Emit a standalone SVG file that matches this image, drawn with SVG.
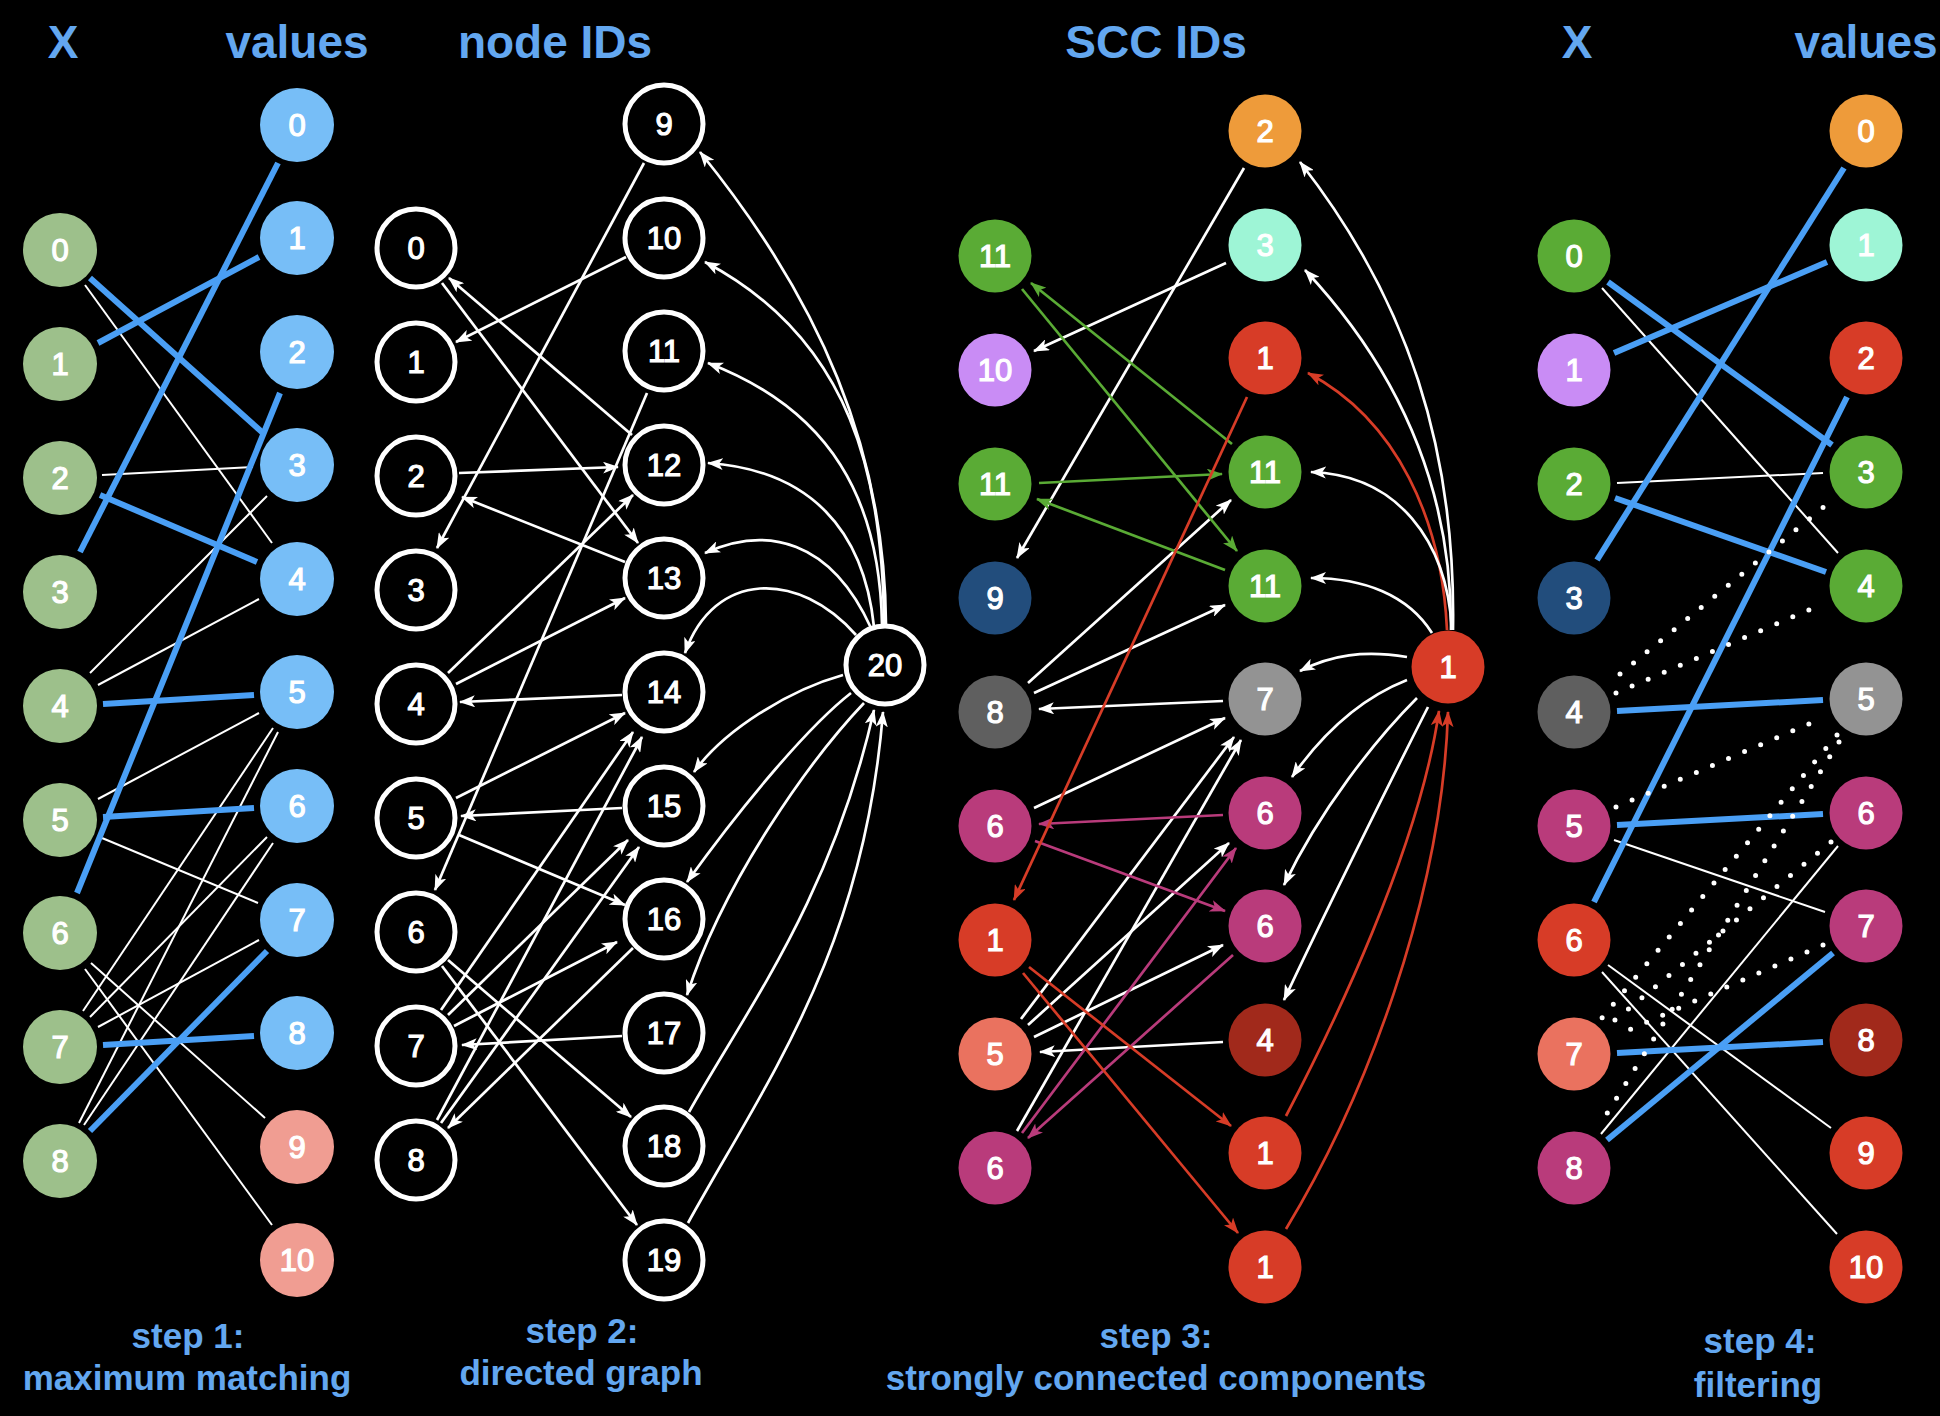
<svg xmlns="http://www.w3.org/2000/svg" width="1940" height="1416" viewBox="0 0 1940 1416">
<defs>
<style>
.h{font-family:"Liberation Sans",Arial,sans-serif;font-weight:bold;fill:#63a7f0;text-anchor:middle}
.hd{font-size:46px}
.st{font-size:35px}
.n text{font-family:"Liberation Sans",Arial,sans-serif;font-size:31px;fill:#fff;stroke:#fff;stroke-width:1.2;text-anchor:middle}
.o circle{fill:#000;stroke:#fff;stroke-width:5}
.m{stroke:#4a9ff5;stroke-width:6;fill:none}
.w{stroke:#fff;stroke-width:2;fill:none}
.a{stroke:#fff;stroke-width:2.7;fill:none;marker-end:url(#aw)}
.ag{stroke:#5aab35;stroke-width:2.7;fill:none;marker-end:url(#ag)}
.am{stroke:#b93b7b;stroke-width:2.7;fill:none;marker-end:url(#am)}
.ar{stroke:#d73c27;stroke-width:2.7;fill:none;marker-end:url(#ar)}
.d{stroke:#fff;stroke-width:5;stroke-linecap:round;stroke-dasharray:0 17.5;fill:none}
.gx{fill:#9dc08b}.bv{fill:#77bef7}.sv{fill:#f09d92}
.or{fill:#ee9b3a}.mi{fill:#9ef5d6}.rd{fill:#d73c27}.gr{fill:#5aab35}.pu{fill:#c98cf5}
.db{fill:#224d7c}.dg{fill:#5f5f5f}.gy{fill:#939393}.mg{fill:#b93b7b}.sa{fill:#ea725f}.dr{fill:#a1291b}
</style>
<marker id="aw" viewBox="0 0 16 12" markerWidth="16" markerHeight="12" refX="15" refY="6" orient="auto" markerUnits="userSpaceOnUse"><path d="M0,0 L16,6 L0,12 L4,6 z" fill="#fff"/></marker>
<marker id="ag" viewBox="0 0 16 12" markerWidth="16" markerHeight="12" refX="15" refY="6" orient="auto" markerUnits="userSpaceOnUse"><path d="M0,0 L16,6 L0,12 L4,6 z" fill="#5aab35"/></marker>
<marker id="am" viewBox="0 0 16 12" markerWidth="16" markerHeight="12" refX="15" refY="6" orient="auto" markerUnits="userSpaceOnUse"><path d="M0,0 L16,6 L0,12 L4,6 z" fill="#b93b7b"/></marker>
<marker id="ar" viewBox="0 0 16 12" markerWidth="16" markerHeight="12" refX="15" refY="6" orient="auto" markerUnits="userSpaceOnUse"><path d="M0,0 L16,6 L0,12 L4,6 z" fill="#d73c27"/></marker>
</defs>
<rect width="1940" height="1416" fill="#000"/>

<g id="titles">
<text class="h hd" x="63" y="58">X</text>
<text class="h hd" x="297" y="58">values</text>
<text class="h hd" x="555" y="58">node IDs</text>
<text class="h hd" x="1156" y="58">SCC IDs</text>
<text class="h hd" x="1577" y="58">X</text>
<text class="h hd" x="1866" y="58">values</text>
<text class="h st" x="188" y="1348">step 1:</text>
<text class="h st" x="187" y="1390">maximum matching</text>
<text class="h st" x="582" y="1343">step 2:</text>
<text class="h st" x="581" y="1385">directed graph</text>
<text class="h st" x="1156" y="1348">step 3:</text>
<text class="h st" x="1156" y="1390">strongly connected components</text>
<text class="h st" x="1760" y="1353">step 4:</text>
<text class="h st" x="1758" y="1397">filtering</text>
</g>

<g id="connectors">
<g id="step1-edges">
<path class="w" d="M85,285 L272,543"/>
<path class="w" d="M102,475 L253,467"/>
<path class="w" d="M90,673 L267,496"/>
<path class="w" d="M98,685 L259,599"/>
<path class="w" d="M98,799 L259,713"/>
<path class="w" d="M102,838 L258,903"/>
<path class="w" d="M91,963 L265,1118"/>
<path class="w" d="M85,969 L272,1225"/>
<path class="w" d="M83,1011 L273,728"/>
<path class="w" d="M90,1017 L267,837"/>
<path class="w" d="M98,1027 L259,940"/>
<path class="w" d="M79,1123 L278,732"/>
<path class="w" d="M84,1125 L273,843"/>
<path class="m" d="M90,278 L263,433"/>
<path class="m" d="M98,343 L259,257"/>
<path class="m" d="M100,495 L257,562"/>
<path class="m" d="M80,552 L278,163"/>
<path class="m" d="M103,704 L254,695"/>
<path class="m" d="M103,817 L254,808"/>
<path class="m" d="M77,893 L280,393"/>
<path class="m" d="M103,1045 L254,1036"/>
<path class="m" d="M90,1131 L267,951"/>
</g>
<g id="step2-edges">
<path class="a" d="M644,163 L437,548"/>
<path class="a" d="M626,257 L456,342"/>
<path class="a" d="M442,283 L638,543"/>
<path class="a" d="M632,435 L449,278"/>
<path class="a" d="M647,393 L435,890"/>
<path class="a" d="M459,473 L618,467"/>
<path class="a" d="M625,562 L462,497"/>
<path class="a" d="M448,673 L633,495"/>
<path class="a" d="M456,684 L625,598"/>
<path class="a" d="M622,695 L460,702"/>
<path class="a" d="M456,798 L625,713"/>
<path class="a" d="M622,808 L461,816"/>
<path class="a" d="M459,835 L625,905"/>
<path class="a" d="M441,1010 L633,732"/>
<path class="a" d="M437,1120 L642,737"/>
<path class="a" d="M448,1015 L628,840"/>
<path class="a" d="M441,1123 L639,847"/>
<path class="a" d="M454,1026 L617,942"/>
<path class="a" d="M633,948 L448,1128"/>
<path class="a" d="M622,1036 L462,1045"/>
<path class="a" d="M448,960 L631,1117"/>
<path class="a" d="M442,966 L637,1225"/>
<path class="a" d="M886,625 C885,450 820,300 700,152"/>
<path class="a" d="M884,625 C883,480 853,340 705,262"/>
<path class="a" d="M882,625 C880,500 831,410 708,363"/>
<path class="a" d="M874,627 C864,530 810,470 708,463"/>
<path class="a" d="M871,628 C831,540 767,525 705,553"/>
<path class="a" d="M856,635 C799,570 714,570 685,653"/>
<path class="a" d="M843,675 C789,690 724,730 694,772"/>
<path class="a" d="M851,693 C810,725 746,800 687,882"/>
<path class="a" d="M864,703 C810,760 724,880 687,995"/>
<path class="a" d="M689,1112 C746,1010 831,900 874,710"/>
<path class="a" d="M688,1223 C767,1080 864,950 883,712"/>
</g>
<g id="step3-edges">
<path class="a" d="M1244,168 L1017,558"/>
<path class="a" d="M1226,263 L1034,351"/>
<path class="a" d="M1028,683 L1231,500"/>
<path class="a" d="M1034,693 L1225,605"/>
<path class="a" d="M1223,701 L1039,709"/>
<path class="a" d="M1034,808 L1225,718"/>
<path class="a" d="M1021,1019 L1234,737"/>
<path class="a" d="M1017,1131 L1241,740"/>
<path class="a" d="M1028,1025 L1229,843"/>
<path class="a" d="M1034,1037 L1223,945"/>
<path class="a" d="M1223,1042 L1040,1052"/>
<path class="ag" d="M1022,289 L1237,551"/>
<path class="ag" d="M1232,444 L1031,283"/>
<path class="ag" d="M1039,483 L1222,474"/>
<path class="ag" d="M1225,570 L1037,499"/>
<path class="am" d="M1223,815 L1039,824"/>
<path class="am" d="M1035,841 L1225,911"/>
<path class="am" d="M1022,1133 L1236,848"/>
<path class="am" d="M1233,955 L1028,1138"/>
<path class="ar" d="M1247,397 L1014,900"/>
<path class="ar" d="M1029,967 L1231,1126"/>
<path class="ar" d="M1023,973 L1238,1233"/>
<path class="a" d="M1453,630 C1456,450 1408,300 1300,162"/>
<path class="a" d="M1451,630 C1452,500 1408,380 1305,270"/>
<path class="ar" d="M1447,630 C1442,520 1397,420 1308,373"/>
<path class="a" d="M1452,630 C1447,540 1397,475 1311,472"/>
<path class="a" d="M1432,633 C1408,595 1364,578 1311,578"/>
<path class="a" d="M1407,657 C1364,650 1331,655 1300,671"/>
<path class="a" d="M1407,680 C1364,697 1325,730 1292,777"/>
<path class="a" d="M1417,698 C1375,740 1320,810 1284,885"/>
<path class="a" d="M1428,707 C1386,790 1331,900 1284,1000"/>
<path class="ar" d="M1286,1116 C1331,1030 1419,850 1439,711"/>
<path class="ar" d="M1286,1229 C1364,1100 1442,900 1448,712"/>
</g>
<g id="step4-edges">
<path class="w" d="M1602,288 L1838,553"/>
<path class="w" d="M1617,483 L1823,473"/>
<path class="w" d="M1614,840 L1825,912"/>
<path class="w" d="M1601,1134 L1838,846"/>
<path class="w" d="M1608,965 L1831,1128"/>
<path class="w" d="M1602,972 L1837,1234"/>
<path class="m" d="M1608,282 L1832,445"/>
<path class="m" d="M1614,353 L1827,262"/>
<path class="m" d="M1597,560 L1844,168"/>
<path class="m" d="M1615,498 L1826,572"/>
<path class="m" d="M1594,902 L1847,397"/>
<path class="m" d="M1617,711 L1823,700"/>
<path class="m" d="M1617,825 L1823,814"/>
<path class="m" d="M1617,1053 L1823,1042"/>
<path class="m" d="M1607,1140 L1833,953"/>
<path class="d" d="M1620,674 L1825,506"/>
<path class="d" d="M1616,693 L1811,609"/>
<path class="d" d="M1616,807 L1811,723"/>
<path class="d" d="M1837,735 L1601,1019"/>
<path class="d" d="M1839,742 L1603,1120"/>
<path class="d" d="M1831,842 L1609,1025"/>
<path class="d" d="M1823,945 L1615,1036"/>
</g>
</g>

<g id="step1-nodes">
<g id="s1x0" class="n"><circle class="gx" cx="60" cy="250" r="37"/><text x="60" y="261">0</text></g>
<g id="s1x1" class="n"><circle class="gx" cx="60" cy="364" r="37"/><text x="60" y="375">1</text></g>
<g id="s1x2" class="n"><circle class="gx" cx="60" cy="478" r="37"/><text x="60" y="489">2</text></g>
<g id="s1x3" class="n"><circle class="gx" cx="60" cy="592" r="37"/><text x="60" y="603">3</text></g>
<g id="s1x4" class="n"><circle class="gx" cx="60" cy="706" r="37"/><text x="60" y="717">4</text></g>
<g id="s1x5" class="n"><circle class="gx" cx="60" cy="820" r="37"/><text x="60" y="831">5</text></g>
<g id="s1x6" class="n"><circle class="gx" cx="60" cy="933" r="37"/><text x="60" y="944">6</text></g>
<g id="s1x7" class="n"><circle class="gx" cx="60" cy="1047" r="37"/><text x="60" y="1058">7</text></g>
<g id="s1x8" class="n"><circle class="gx" cx="60" cy="1161" r="37"/><text x="60" y="1172">8</text></g>
<g id="s1v0" class="n"><circle class="bv" cx="297" cy="125" r="37"/><text x="297" y="136">0</text></g>
<g id="s1v1" class="n"><circle class="bv" cx="297" cy="238" r="37"/><text x="297" y="249">1</text></g>
<g id="s1v2" class="n"><circle class="bv" cx="297" cy="352" r="37"/><text x="297" y="363">2</text></g>
<g id="s1v3" class="n"><circle class="bv" cx="297" cy="465" r="37"/><text x="297" y="476">3</text></g>
<g id="s1v4" class="n"><circle class="bv" cx="297" cy="579" r="37"/><text x="297" y="590">4</text></g>
<g id="s1v5" class="n"><circle class="bv" cx="297" cy="692" r="37"/><text x="297" y="703">5</text></g>
<g id="s1v6" class="n"><circle class="bv" cx="297" cy="806" r="37"/><text x="297" y="817">6</text></g>
<g id="s1v7" class="n"><circle class="bv" cx="297" cy="920" r="37"/><text x="297" y="931">7</text></g>
<g id="s1v8" class="n"><circle class="bv" cx="297" cy="1033" r="37"/><text x="297" y="1044">8</text></g>
<g id="s1v9" class="n"><circle class="sv" cx="297" cy="1147" r="37"/><text x="297" y="1158">9</text></g>
<g id="s1v10" class="n"><circle class="sv" cx="297" cy="1260" r="37"/><text x="297" y="1271">10</text></g>
</g>

<g id="step2-nodes">
<g id="s2n0" class="n o"><circle cx="416" cy="248" r="39"/><text x="416" y="259">0</text></g>
<g id="s2n1" class="n o"><circle cx="416" cy="362" r="39"/><text x="416" y="373">1</text></g>
<g id="s2n2" class="n o"><circle cx="416" cy="476" r="39"/><text x="416" y="487">2</text></g>
<g id="s2n3" class="n o"><circle cx="416" cy="590" r="39"/><text x="416" y="601">3</text></g>
<g id="s2n4" class="n o"><circle cx="416" cy="704" r="39"/><text x="416" y="715">4</text></g>
<g id="s2n5" class="n o"><circle cx="416" cy="818" r="39"/><text x="416" y="829">5</text></g>
<g id="s2n6" class="n o"><circle cx="416" cy="932" r="39"/><text x="416" y="943">6</text></g>
<g id="s2n7" class="n o"><circle cx="416" cy="1046" r="39"/><text x="416" y="1057">7</text></g>
<g id="s2n8" class="n o"><circle cx="416" cy="1160" r="39"/><text x="416" y="1171">8</text></g>
<g id="s2n9" class="n o"><circle cx="664" cy="124" r="39"/><text x="664" y="135">9</text></g>
<g id="s2n10" class="n o"><circle cx="664" cy="238" r="39"/><text x="664" y="249">10</text></g>
<g id="s2n11" class="n o"><circle cx="664" cy="351" r="39"/><text x="664" y="362">11</text></g>
<g id="s2n12" class="n o"><circle cx="664" cy="465" r="39"/><text x="664" y="476">12</text></g>
<g id="s2n13" class="n o"><circle cx="664" cy="578" r="39"/><text x="664" y="589">13</text></g>
<g id="s2n14" class="n o"><circle cx="664" cy="692" r="39"/><text x="664" y="703">14</text></g>
<g id="s2n15" class="n o"><circle cx="664" cy="806" r="39"/><text x="664" y="817">15</text></g>
<g id="s2n16" class="n o"><circle cx="664" cy="919" r="39"/><text x="664" y="930">16</text></g>
<g id="s2n17" class="n o"><circle cx="664" cy="1033" r="39"/><text x="664" y="1044">17</text></g>
<g id="s2n18" class="n o"><circle cx="664" cy="1146" r="39"/><text x="664" y="1157">18</text></g>
<g id="s2n19" class="n o"><circle cx="664" cy="1260" r="39"/><text x="664" y="1271">19</text></g>
<g id="s2n20" class="n o"><circle cx="885" cy="665" r="39"/><text x="885" y="676">20</text></g>
</g>

<g id="step3-nodes">
<g id="s3x0" class="n"><circle class="gr" cx="995" cy="256" r="36.5"/><text x="995" y="267">11</text></g>
<g id="s3x1" class="n"><circle class="pu" cx="995" cy="370" r="36.5"/><text x="995" y="381">10</text></g>
<g id="s3x2" class="n"><circle class="gr" cx="995" cy="484" r="36.5"/><text x="995" y="495">11</text></g>
<g id="s3x3" class="n"><circle class="db" cx="995" cy="598" r="36.5"/><text x="995" y="609">9</text></g>
<g id="s3x4" class="n"><circle class="dg" cx="995" cy="712" r="36.5"/><text x="995" y="723">8</text></g>
<g id="s3x5" class="n"><circle class="mg" cx="995" cy="826" r="36.5"/><text x="995" y="837">6</text></g>
<g id="s3x6" class="n"><circle class="rd" cx="995" cy="940" r="36.5"/><text x="995" y="951">1</text></g>
<g id="s3x7" class="n"><circle class="sa" cx="995" cy="1054" r="36.5"/><text x="995" y="1065">5</text></g>
<g id="s3x8" class="n"><circle class="mg" cx="995" cy="1168" r="36.5"/><text x="995" y="1179">6</text></g>
<g id="s3v0" class="n"><circle class="or" cx="1265" cy="131" r="36.5"/><text x="1265" y="142">2</text></g>
<g id="s3v1" class="n"><circle class="mi" cx="1265" cy="245" r="36.5"/><text x="1265" y="256">3</text></g>
<g id="s3v2" class="n"><circle class="rd" cx="1265" cy="358" r="36.5"/><text x="1265" y="369">1</text></g>
<g id="s3v3" class="n"><circle class="gr" cx="1265" cy="472" r="36.5"/><text x="1265" y="483">11</text></g>
<g id="s3v4" class="n"><circle class="gr" cx="1265" cy="586" r="36.5"/><text x="1265" y="597">11</text></g>
<g id="s3v5" class="n"><circle class="gy" cx="1265" cy="699" r="36.5"/><text x="1265" y="710">7</text></g>
<g id="s3v6" class="n"><circle class="mg" cx="1265" cy="813" r="36.5"/><text x="1265" y="824">6</text></g>
<g id="s3v7" class="n"><circle class="mg" cx="1265" cy="926" r="36.5"/><text x="1265" y="937">6</text></g>
<g id="s3v8" class="n"><circle class="dr" cx="1265" cy="1040" r="36.5"/><text x="1265" y="1051">4</text></g>
<g id="s3v9" class="n"><circle class="rd" cx="1265" cy="1153" r="36.5"/><text x="1265" y="1164">1</text></g>
<g id="s3v10" class="n"><circle class="rd" cx="1265" cy="1267" r="36.5"/><text x="1265" y="1278">1</text></g>
<g id="s3sink" class="n"><circle class="rd" cx="1448" cy="667" r="36.5"/><text x="1448" y="678">1</text></g>
</g>

<g id="step4-nodes">
<g id="s4x0" class="n"><circle class="gr" cx="1574" cy="256" r="36.5"/><text x="1574" y="267">0</text></g>
<g id="s4x1" class="n"><circle class="pu" cx="1574" cy="370" r="36.5"/><text x="1574" y="381">1</text></g>
<g id="s4x2" class="n"><circle class="gr" cx="1574" cy="484" r="36.5"/><text x="1574" y="495">2</text></g>
<g id="s4x3" class="n"><circle class="db" cx="1574" cy="598" r="36.5"/><text x="1574" y="609">3</text></g>
<g id="s4x4" class="n"><circle class="dg" cx="1574" cy="712" r="36.5"/><text x="1574" y="723">4</text></g>
<g id="s4x5" class="n"><circle class="mg" cx="1574" cy="826" r="36.5"/><text x="1574" y="837">5</text></g>
<g id="s4x6" class="n"><circle class="rd" cx="1574" cy="940" r="36.5"/><text x="1574" y="951">6</text></g>
<g id="s4x7" class="n"><circle class="sa" cx="1574" cy="1054" r="36.5"/><text x="1574" y="1065">7</text></g>
<g id="s4x8" class="n"><circle class="mg" cx="1574" cy="1168" r="36.5"/><text x="1574" y="1179">8</text></g>
<g id="s4v0" class="n"><circle class="or" cx="1866" cy="131" r="36.5"/><text x="1866" y="142">0</text></g>
<g id="s4v1" class="n"><circle class="mi" cx="1866" cy="245" r="36.5"/><text x="1866" y="256">1</text></g>
<g id="s4v2" class="n"><circle class="rd" cx="1866" cy="358" r="36.5"/><text x="1866" y="369">2</text></g>
<g id="s4v3" class="n"><circle class="gr" cx="1866" cy="472" r="36.5"/><text x="1866" y="483">3</text></g>
<g id="s4v4" class="n"><circle class="gr" cx="1866" cy="586" r="36.5"/><text x="1866" y="597">4</text></g>
<g id="s4v5" class="n"><circle class="gy" cx="1866" cy="699" r="36.5"/><text x="1866" y="710">5</text></g>
<g id="s4v6" class="n"><circle class="mg" cx="1866" cy="813" r="36.5"/><text x="1866" y="824">6</text></g>
<g id="s4v7" class="n"><circle class="mg" cx="1866" cy="926" r="36.5"/><text x="1866" y="937">7</text></g>
<g id="s4v8" class="n"><circle class="dr" cx="1866" cy="1040" r="36.5"/><text x="1866" y="1051">8</text></g>
<g id="s4v9" class="n"><circle class="rd" cx="1866" cy="1153" r="36.5"/><text x="1866" y="1164">9</text></g>
<g id="s4v10" class="n"><circle class="rd" cx="1866" cy="1267" r="36.5"/><text x="1866" y="1278">10</text></g>
</g>
</svg>
